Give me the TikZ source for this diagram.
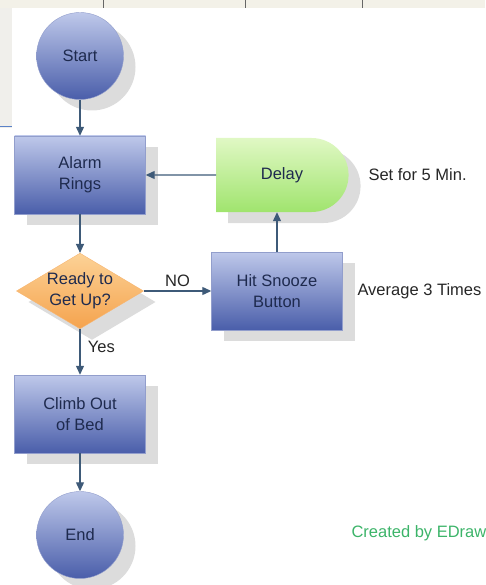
\documentclass[tikz,border=0pt]{standalone}
\usepackage{fontspec}
\setmainfont{Liberation Sans}
\usetikzlibrary{arrows.meta,shapes.geometric,shapes.misc,shadows}
\definecolor{wakenavy}{RGB}{30,42,78}
\definecolor{wakeboxtop}{RGB}{190,200,234}
\definecolor{wakeboxbot}{RGB}{74,94,170}
\definecolor{wakeorangetop}{RGB}{252,210,150}
\definecolor{wakeorangebot}{RGB}{245,163,78}
\definecolor{wakegreentop}{RGB}{224,248,196}
\definecolor{wakegreenbot}{RGB}{160,228,110}
\definecolor{wakeshadow}{RGB}{220,220,220}
\definecolor{wakearrow}{RGB}{62,90,120}
\definecolor{wakecredit}{RGB}{60,180,105}
\definecolor{wakeband}{RGB}{243,241,232}
\definecolor{wakeside}{RGB}{240,239,235}
\definecolor{wakeline}{RGB}{90,130,200}

\begin{document}
\begin{tikzpicture}[x=1pt,y=-1pt,>={Triangle[length=9pt,width=8pt]},
  every node/.style={font=\fontsize{16.5}{21}\selectfont,
  text=wakenavy,align=center},
  flowshadow/.style={copy shadow={shadow xshift=12pt,
  shadow yshift=-11pt,fill=wakeshadow,draw=none}},
  blueshade/.style={top color=wakeboxtop,bottom color=wakeboxbot,
  draw=wakeboxbot!60,line width=.4pt,flowshadow},
  terminal/.style={circle,minimum size=87pt,inner sep=0pt,blueshade},
  process/.style={rectangle,minimum width=131pt,
  minimum height=78pt,blueshade},
  decision/.style={diamond,aspect=1.68,inner sep=0pt,
  top color=wakeorangetop,bottom color=wakeorangebot,
  draw=wakeorangebot!80,line width=.4pt,flowshadow},
  delaybox/.style={rounded rectangle,rounded rectangle west arc=none,
  minimum width=139pt,minimum height=74pt,top color=wakegreentop,
  bottom color=wakegreenbot,draw=none,flowshadow},
  note/.style={anchor=west,text=black!85},
  flow/.style={->,line width=1.2pt,wakearrow}]
 \useasboundingbox (0,0) rectangle (485,585);
 % screen edges
 \fill[wakeband] (0,0) rectangle (485,8);
 \foreach \xx in {103,245,362}
  \draw[black!60,line width=.8pt] (\xx,0) -- (\xx,8);
 \fill[wakeside] (0,8) rectangle (12,128);
 \draw[wakeline,line width=1pt] (0,127) -- (12,127);
 % shapes
 \node[terminal] (start) at (80,56) {Start};
 \node[process] (alarm) at (80,175) {Alarm\\Rings};
 \node[delaybox] (delay) at (282,175) {Delay};
 \node[decision] (ready) at (80,291) {Ready to\\Get Up?};
 \node[process] (snooze) at (277,291) {Hit Snooze\\Button};
 \node[process] (climb) at (80,414) {Climb Out\\of Bed};
 \node[terminal] (end) at (80,535) {End};
 \node[note] (setfor) at (365,175) {Set for 5 Min.};
 \node[note] (average) at (354,291) {Average 3 Times};
 \node[note,text=wakecredit] (credit) at (348,533) {Created by EDraw};
 % connectors
 \draw[flow] (start) -- (alarm);
 \draw[flow] (alarm) -- (ready);
 \draw[flow] (ready) --
  node[pos=.4,right,xshift=4pt,text=black!85] {Yes} (climb);
 \draw[flow] (ready) --
  node[midway,above,text=black!85] {NO} (snooze);
 \draw[flow] (snooze.north) -- (snooze.north |- delay.south);
 \draw[flow] (delay) -- (alarm);
 \draw[flow] (climb) -- (end);
\end{tikzpicture}
\end{document}
